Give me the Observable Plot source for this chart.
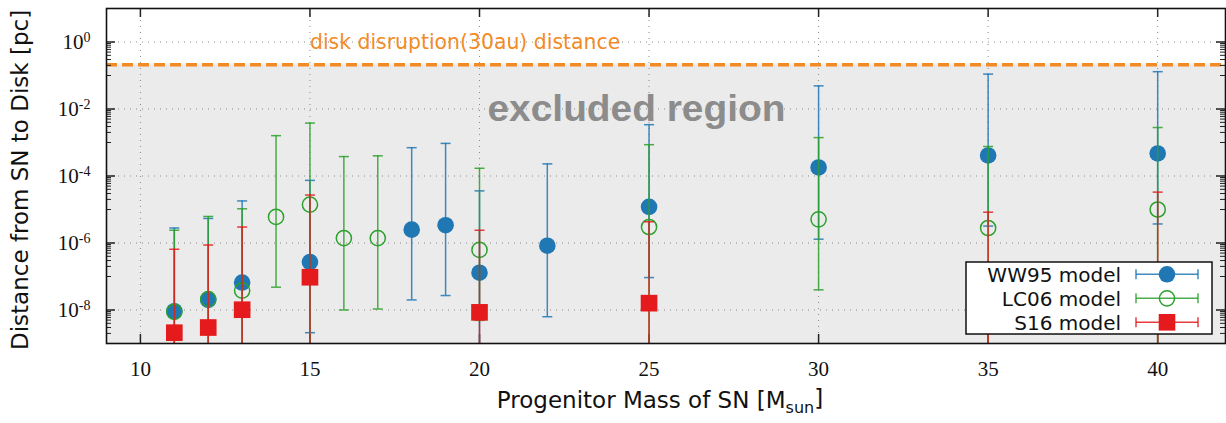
<!DOCTYPE html>
<html>
<head>
<meta charset="utf-8">
<script src="https://cdn.jsdelivr.net/npm/d3@7"></script>
<script src="https://cdn.jsdelivr.net/npm/@observablehq/plot@0.6"></script>
<style>
  html, body { margin: 0; padding: 0; background: #fff; }
</style>
</head>
<body>
<div id="chart"></div>
<script>
// ---------- data ----------
const xDomain = [9, 42];
const yDomain = [1e-9, 10];
const xTicks = [10, 15, 20, 25, 30, 35, 40];
const yMajor = [1, 1e-2, 1e-4, 1e-6, 1e-8];
const diskDistance = 0.21;           // disk disruption (30 au) distance [pc]

// WW95 model (filled blue circles)
const ww95Mass  = [11, 12, 13, 15, 18, 19, 20, 22, 25, 30, 35, 40];
const ww95Value = [9.2e-9, 2.0e-8, 6.6e-8, 2.7e-7, 2.5e-6, 3.4e-6, 1.3e-7, 8.3e-7, 1.2e-5, 1.8e-4, 4.1e-4, 4.7e-4];
const ww95Upper = [2.8e-6, 5.4e-6, 1.8e-5, 7.4e-5, 7.0e-4, 9.4e-4, 3.6e-5, 2.3e-4, 3.4e-3, 4.9e-2, 0.11, 0.13];
const ww95Lower = [1e-12, 1e-12, 1e-12, 2.1e-9, 2.0e-8, 2.7e-8, 1e-12, 6.3e-9, 9.3e-8, 1.3e-6, 3.2e-6, 3.7e-6];

// LC06 model (open green circles)
const lc06Mass  = [11, 12, 13, 14, 15, 16, 17, 20, 25, 30, 35, 40];
const lc06Value = [8.8e-9, 2.1e-8, 3.8e-8, 6.0e-6, 1.4e-5, 1.4e-6, 1.4e-6, 6.2e-7, 3.0e-6, 5.1e-6, 2.8e-6, 1.0e-5];
const lc06Upper = [2.4e-6, 6.2e-6, 1.05e-5, 1.6e-3, 3.8e-3, 3.8e-4, 4.0e-4, 1.7e-4, 8.6e-4, 1.4e-3, 7.6e-4, 2.8e-3];
const lc06Lower = [1e-12, 1e-12, 1e-12, 4.8e-8, 1e-12, 1.0e-8, 1.07e-8, 4.9e-9, 1e-12, 4.0e-8, 1e-12, 1e-12];

// S16 model (red squares)
const s16Mass  = [11, 12, 13, 15, 20, 25, 35, 40];
const s16Value = [2.1e-9, 3.0e-9, 1.02e-8, 9.5e-8, 8.5e-9, 1.6e-8, 1e-10, 1e-10];
const s16Upper = [6.5e-7, 8.7e-7, 3.0e-6, 2.7e-5, 2.4e-6, 4.3e-6, 8.3e-6, 3.3e-5];
const s16Lower = [1e-12, 1e-12, 1e-12, 1e-12, 1e-12, 1e-12, 1e-12, 1e-12];

const seriesNames = ["WW95 model", "LC06 model", "S16 model"];
const annotations = [
  {x: 15, y: 1, text: "disk disruption(30au) distance"},
  {x: 24.63, y: 9.4e-3, text: "excluded region"}
];

// ---------- styles ----------
const BLUE = "#1f77b4", GREEN = "#2ca02c", RED = "#e41a1c", ORANGE = "#f28b26";
const W = 1226, H = 423, mL = 106, mR = 1, mT = 8, mB = 80;
const innerW = W - mL - mR, innerH = H - mT - mB;

const table = (mass, value, lo, hi) => mass.map((m, i) => ({mass: m, value: value[i], lo: lo[i], hi: hi[i]}));
const ww95 = table(ww95Mass, ww95Value, ww95Lower, ww95Upper);
const lc06 = table(lc06Mass, lc06Value, lc06Lower, lc06Upper);
const s16  = table(s16Mass, s16Value, s16Lower, s16Upper);

// horizontal cap symbol for error bars
const capSymbol = { draw(ctx, size) { const w = Math.sqrt(size / Math.PI); ctx.moveTo(-w, 0); ctx.lineTo(w, 0); } };

// minor log ticks (gnuplot style: d*10^(e-1) under each labelled decade)
const yMinor = [];
for (const m of yMajor) for (let d = 1; d <= 9; d++) yMinor.push(d * m / 10);

function errorMarks(data, color, pointOpts) {
  return [
    Plot.ruleX(data, {x: "mass", y1: "lo", y2: "hi", stroke: color, strokeWidth: 1.5, strokeOpacity: 0.85, clip: true}),
    Plot.dot(data, {x: "mass", y: "hi", symbol: capSymbol, r: 5, fill: "none", stroke: color, strokeWidth: 1.5, strokeOpacity: 0.85, clip: true}),
    Plot.dot(data, {x: "mass", y: "lo", symbol: capSymbol, r: 5, fill: "none", stroke: color, strokeWidth: 1.5, strokeOpacity: 0.85, clip: true}),
    Plot.dot(data, {x: "mass", y: "value", clip: true, ...pointOpts})
  ];
}

const plot = Plot.plot({
  width: W, height: H,
  marginLeft: mL, marginRight: mR, marginTop: mT, marginBottom: mB,
  style: {background: "#fff", overflow: "visible"},
  x: {domain: xDomain},
  y: {type: "log", domain: yDomain},
  marks: [
    // excluded region
    Plot.rect([diskDistance], {x1: xDomain[0], x2: xDomain[1], y1: yDomain[0], y2: d => d, fill: "#ebebeb"}),
    // grid
    Plot.ruleX(xTicks, {x: d => d, stroke: "#8a8a8a", strokeWidth: 1, strokeDasharray: "1,5"}),
    Plot.ruleY(yMajor, {y: d => d, stroke: "#8a8a8a", strokeWidth: 1, strokeDasharray: "1,5"}),
    // disk disruption line
    Plot.ruleY([diskDistance], {y: d => d, stroke: ORANGE, strokeWidth: 3.5, strokeDasharray: "11,5"}),
    // annotations
    Plot.text([annotations[0]], {x: "x", y: "y", text: "text", textAnchor: "start", fill: ORANGE, fontSize: 20.4, fontFamily: "DejaVu Sans"}),
    Plot.text([annotations[1]], {x: "x", y: "y", text: "text", fill: "#8c8c8c", fontSize: 36, fontWeight: "bold", fontFamily: "Liberation Sans"}),
    // axes tick labels
    Plot.axisX({ticks: xTicks, tickSize: 0, tickPadding: 18, fontSize: 21, fontFamily: "Liberation Serif", label: null, fill: "#111"}),
    Plot.axisY({ticks: yMajor, tickSize: 0, tickPadding: 16, fontSize: 21, fontFamily: "Liberation Serif", label: null, fill: "#111",
                tickFormat: d => "10^" + Math.round(Math.log10(d))}),
    // inward tick marks (all four sides)
    Plot.ruleX(xTicks, {x: d => d, insetTop: innerH - 9, stroke: "#222", strokeWidth: 1.5}),
    Plot.ruleX(xTicks, {x: d => d, insetBottom: innerH - 9, stroke: "#222", strokeWidth: 1.5}),
    Plot.ruleY(yMajor, {y: d => d, insetRight: innerW - 9, stroke: "#222", strokeWidth: 1.5}),
    Plot.ruleY(yMajor, {y: d => d, insetLeft: innerW - 9, stroke: "#222", strokeWidth: 1.5}),
    Plot.ruleY(yMinor, {y: d => d, insetRight: innerW - 5, stroke: "#222", strokeWidth: 1}),
    Plot.ruleY(yMinor, {y: d => d, insetLeft: innerW - 5, stroke: "#222", strokeWidth: 1}),
    // data
    ...errorMarks(ww95, BLUE, {r: 8.3, fill: BLUE}),
    ...errorMarks(lc06, GREEN, {r: 7.6, fill: "none", stroke: GREEN, strokeWidth: 1.5}),
    ...errorMarks(s16, RED, {r: 9.4, symbol: "square", fill: RED}),
    Plot.frame({stroke: "#111", strokeWidth: 1.6})
  ]
});

const svg = d3.select(plot);
svg.attr("font-family", "DejaVu Sans");

// widen the bold annotation to the reference's width
svg.selectAll("text").filter(function() { return this.textContent === annotations[1].text; })
  .attr("textLength", 298).attr("lengthAdjust", "spacingAndGlyphs");

// superscripts for y tick labels
svg.selectAll('g[aria-label="y-axis tick label"] text').each(function() {
  const t = d3.select(this);
  const [base, exp] = this.textContent.split("^");
  t.text(base);
  t.append("tspan").attr("dy", "-0.5em").attr("font-size", 14).text(exp);
});

// axis labels
svg.append("text")
  .attr("transform", "translate(28,350) rotate(-90)")
  .attr("text-anchor", "start")
  .attr("font-family", "DejaVu Sans").attr("font-size", 23).attr("fill", "#111")
  .text("Distance from SN to Disk [pc]");

const xl = svg.append("text")
  .attr("x", 660).attr("y", 408)
  .attr("text-anchor", "middle")
  .attr("font-family", "DejaVu Sans").attr("font-size", 23).attr("fill", "#111");
xl.append("tspan").text("Progenitor Mass of SN [M");
xl.append("tspan").attr("font-size", 16).attr("dy", "0.3em").text("sun");
xl.append("tspan").attr("dy", "-0.3em").text("]");

// legend
const lg = svg.append("g");
lg.append("rect").attr("x", 966).attr("y", 262).attr("width", 246).attr("height", 72)
  .attr("fill", "#fff").attr("stroke", "#111").attr("stroke-width", 1.5);
const legendColors = [BLUE, GREEN, RED];
seriesNames.forEach((name, i) => {
  const cy = 274.3 + i * 24;
  const c = legendColors[i];
  lg.append("text").attr("x", 1121).attr("y", cy).attr("dy", "0.36em").attr("text-anchor", "end")
    .attr("font-family", "DejaVu Sans").attr("font-size", 20).attr("fill", "#111").text(name);
  const s = lg.append("g").attr("stroke", c).attr("stroke-width", 1.5).attr("stroke-opacity", 0.85);
  s.append("line").attr("x1", 1136).attr("x2", 1198).attr("y1", cy).attr("y2", cy);
  s.append("line").attr("x1", 1136).attr("x2", 1136).attr("y1", cy - 5).attr("y2", cy + 5);
  s.append("line").attr("x1", 1198).attr("x2", 1198).attr("y1", cy - 5).attr("y2", cy + 5);
  if (i === 0) lg.append("circle").attr("cx", 1167).attr("cy", cy).attr("r", 8.3).attr("fill", c);
  if (i === 1) lg.append("circle").attr("cx", 1167).attr("cy", cy).attr("r", 7.6).attr("fill", "none").attr("stroke", c).attr("stroke-width", 1.5);
  if (i === 2) lg.append("rect").attr("x", 1167 - 8.3).attr("y", cy - 8.3).attr("width", 16.6).attr("height", 16.6).attr("fill", c);
});

document.getElementById("chart").appendChild(plot);
</script>
</body>
</html>
